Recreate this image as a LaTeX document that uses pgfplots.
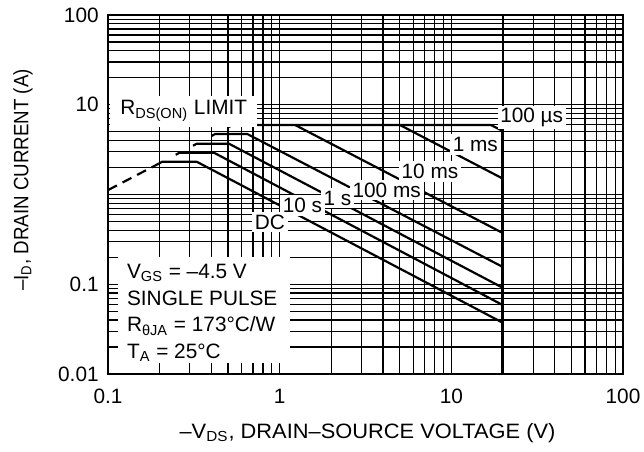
\documentclass[border=0pt]{standalone}
\usepackage{fontspec}
\setmainfont{Liberation Sans}
\usepackage{graphicx}
\usepackage{pgfplots}
\pgfplotsset{compat=1.18}
\begin{document}
\fontsize{10.4}{13.33}\selectfont
\begin{tikzpicture}
\begin{axis}[
  scale only axis, width=257.5pt, height=179.5pt,
  xmode=log, ymode=log,
  xmin=0.1, xmax=100, ymin=0.01, ymax=100,
  clip=false,
  xtick={0.1,1,10,100}, xticklabels={0.1,1,10,100},
  ytick={0.01,0.1,1,10,100}, yticklabels={0.01,0.1,{},10,100},
  minor xtick={0.2,0.3,0.4,0.5,0.6,0.7,0.8,0.9,2,3,4,5,6,7,8,9,20,30,40,50,60,70,80,90},
  minor ytick={0.02,0.03,0.04,0.05,0.06,0.07,0.08,0.09,0.2,0.3,0.4,0.5,0.6,0.7,0.8,0.9,2,3,4,5,6,7,8,9,20,30,40,50,60,70,80,90},
  grid=both,
  major grid style={black, line width=0.6pt},
  minor grid style={black, line width=0.6pt},
  tick style={draw=none},
  axis line style={black, line width=0.6pt},
  xticklabel style={yshift=-3.7pt},
  yticklabel style={xshift=-1pt},
  xlabel={\scalebox{1.05}[1]{–V\textsubscript{DS}, DRAIN–SOURCE VOLTAGE (V)}},
  ylabel={\scalebox{0.9}[1]{–I\textsubscript{D}, DRAIN CURRENT (A)}},
  xlabel style={at={(axis description cs:0.5039,-0.1791)}, anchor=base},
  ylabel style={at={(axis description cs:-0.1548,0.5404)}, anchor=base},
]
% R_DS(on) limit (dashed)
\addplot[black, line width=1.1pt, dash pattern=on 5pt off 3.2pt] coordinates {(0.1,1.12) (0.197,2.2)};
% 100 us
\addplot[black, line width=1.1pt] coordinates {(0.505,5.65) (0.531,5.95) (17,5.95) (19.8,5.14) (19.8,0.01)};
% 1 ms
\addplot[black, line width=1.1pt] coordinates {(5.02,5.95) (19.8,1.515)};
% 10 ms
\addplot[black, line width=1.1pt] coordinates {(1.23,5.95) (19.8,0.375)};
% 100 ms
\addplot[black, line width=1.1pt] coordinates {(0.40,4.48) (0.421,4.72) (0.648,4.72) (19.8,0.157)};
% 1 s
\addplot[black, line width=1.1pt] coordinates {(0.313,3.5) (0.329,3.68) (0.507,3.68) (19.8,0.092)};
% 10 s
\addplot[black, line width=1.1pt] coordinates {(0.248,2.77) (0.261,2.92) (0.4145,2.92) (19.8,0.059)};
% DC
\addplot[black, line width=1.1pt] coordinates {(0.197,2.2) (0.207,2.32) (0.3285,2.32) (19.8,0.0375)};
% labels
\node[fill=white, anchor=base west, inner xsep=5pt, inner ysep=2.5pt] at (axis cs:0.1027,7.69) {R\textsubscript{DS(ON)} LIMIT};
\node[fill=white, anchor=base, inner sep=1.2pt] at (axis cs:29.4,6.31) {100 µs};
\node[fill=white, anchor=base, inner sep=1.5pt] at (axis cs:13.8,3.0) {1 ms};
\node[fill=white, anchor=base, inner sep=1.5pt] at (axis cs:7.51,1.515) {10 ms};
\node[fill=white, anchor=base, inner sep=1.5pt] at (axis cs:4.20,0.931) {100 ms};
\node[fill=white, anchor=base, inner sep=1.5pt] at (axis cs:2.17,0.764) {1 s};
\node[fill=white, anchor=base, inner sep=1.5pt] at (axis cs:1.358,0.627) {10 s};
\node[fill=white, anchor=base, inner sep=1.5pt] at (axis cs:0.878,0.4096) {DC};
% condition block
\fill[white] (axis cs:0.1143,0.1997) rectangle (axis cs:1.149,0.01315);
\node[anchor=base west, inner sep=0pt] at (axis cs:0.1285,0.1165) {V\textsubscript{GS} = –4.5 V};
\node[anchor=base west, inner sep=0pt] at (axis cs:0.1285,0.0587) {SINGLE PULSE};
\node[anchor=base west, inner sep=0pt] at (axis cs:0.1285,0.0296) {R\textsubscript{θJA} = 173°C/W};
\node[anchor=base west, inner sep=0pt] at (axis cs:0.1285,0.01496) {T\textsubscript{A} = 25°C};
% heavier left and bottom frame
\draw[black, line width=1.4pt] (rel axis cs:0,1) -- (rel axis cs:0,0) -- (rel axis cs:1,0);
\coordinate (ll) at (rel axis cs:0,0);
\coordinate (ur) at (rel axis cs:1,1);
\end{axis}
\pgfresetboundingbox
\path ([shift={(-54pt,-38.5pt)}]ll) rectangle ([shift={(10.5pt,7.5pt)}]ur);
\end{tikzpicture}
\end{document}
